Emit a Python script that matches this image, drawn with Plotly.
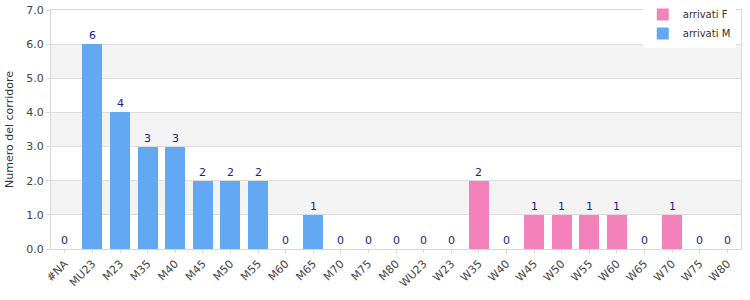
import plotly.graph_objects as go

categories = ["#NA", "MU23", "M23", "M35", "M40", "M45", "M50", "M55", "M60", "M65",
              "M70", "M75", "M80", "WU23", "W23", "W35", "W40", "W45", "W50", "W55",
              "W60", "W65", "W70", "W75", "W80"]
arrivati_M = [0, 6, 4, 3, 3, 2, 2, 2, 0, 1, 0, 0, 0, 0, 0, 0, 0, 0, 0, 0, 0, 0, 0, 0, 0]
arrivati_F = [0, 0, 0, 0, 0, 0, 0, 0, 0, 0, 0, 0, 0, 0, 0, 2, 0, 1, 1, 1, 1, 0, 1, 0, 0]
totals = [m + f for m, f in zip(arrivati_M, arrivati_F)]

FONT = "DejaVu Sans"
fig = go.Figure()
fig.add_trace(go.Bar(x=categories, y=arrivati_F, name="arrivati F",
                     marker=dict(color="#f382bb", line=dict(width=0)), hoverinfo="x+y"))
fig.add_trace(go.Bar(x=categories, y=arrivati_M, name="arrivati M",
                     marker=dict(color="#62a8f3", line=dict(width=0)), hoverinfo="x+y"))

annotations = []
for c, t in zip(categories, totals):
    annotations.append(dict(x=c, y=t, xref="x", yref="y", text=str(t), showarrow=False,
                            yanchor="bottom", yshift=0,
                            font=dict(family=FONT, size=11, color="#1c1c8a")))

shapes = []
for lo in (1, 3, 5):
    shapes.append(dict(type="rect", xref="paper", yref="y", x0=0, x1=1, y0=lo, y1=lo + 1,
                       fillcolor="#f3f3f3", line=dict(width=0), layer="below"))

fig.update_layout(
    width=750, height=300,
    margin=dict(l=51, r=9, t=10, b=51, autoexpand=False),
    paper_bgcolor="white", plot_bgcolor="white",
    barmode="stack", bargap=0.28,
    font=dict(family=FONT, size=11, color="#444444"),
    shapes=shapes,
    annotations=annotations,
    legend=dict(xref="container", yref="container", x=0.857, y=1.02,
                xanchor="left", yanchor="top",
                bgcolor="white", font=dict(family=FONT, size=10, color="#333333"),
                traceorder="normal", itemwidth=30, tracegroupgap=0),
    xaxis=dict(type="category", tickangle=-45, showgrid=False, automargin=False,
               showline=True, linecolor="#d8d8d8", mirror=True,
               ticks="outside", ticklen=3, tickcolor="#d8d8d8",
               tickfont=dict(family=FONT, size=11, color="#444444")),
    yaxis=dict(range=[0, 7], dtick=1, tickformat=".1f", automargin=False,
               showgrid=True, gridcolor="#dddddd", zeroline=False,
               showline=True, linecolor="#d8d8d8", mirror=True,
               ticks="outside", ticklen=4, tickcolor="#d8d8d8",
               tickfont=dict(family=FONT, size=11, color="#444444"),
               title=dict(text="Numero del corridore", standoff=10,
                          font=dict(family=FONT, size=11, color="#333333"))),
)
fig.write_html("out.html")
